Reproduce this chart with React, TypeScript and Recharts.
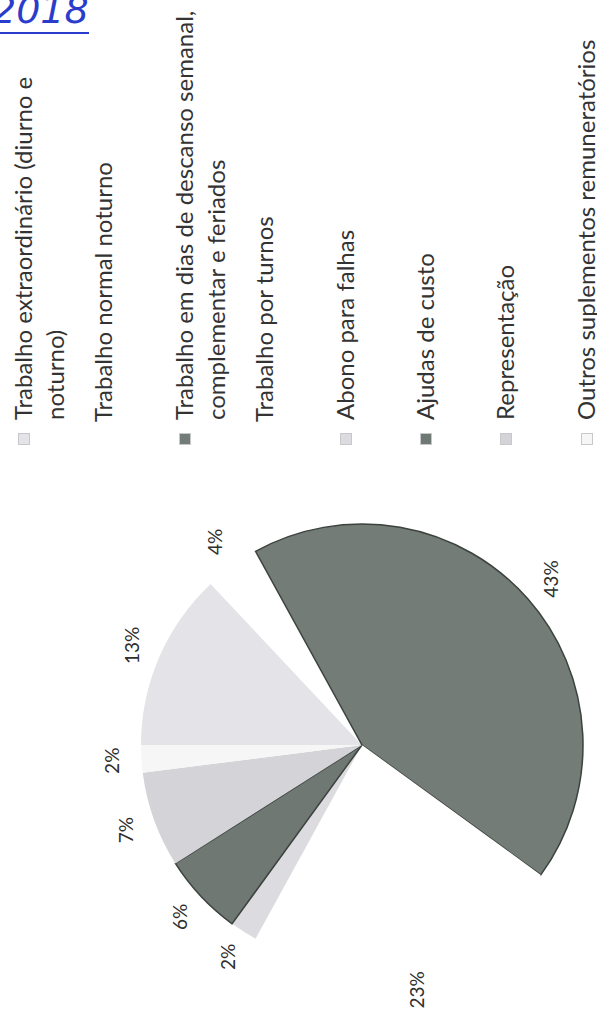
import React from 'react';
import { Cell, Legend, Pie, PieChart } from 'recharts';

// categories in the order Excel draws them (clockwise from 12 o'clock)
const categories = [
  'Trabalho extraordinário (diurno e noturno)',
  'Trabalho normal noturno',
  'Trabalho em dias de descanso semanal, complementar e feriados',
  'Trabalho por turnos',
  'Abono para falhas',
  'Ajudas de custo',
  'Representação',
  'Outros suplementos remuneratórios',
];
const shares = [13, 4, 43, 23, 2, 6, 7, 2];
const yearNote = '2018';

const fills = ['#e4e4e8', '#ffffff', '#737c76', '#ffffff', '#dcdce0', '#6f7872', '#d3d3d8', '#f6f6f6'];
const strokes = ['none', 'none', '#3c423e', 'none', 'none', '#3c423e', 'none', 'none'];

const data = categories.map((name, i) => ({ name, value: shares[i] }));

const RADIAN = Math.PI / 180;
const FONT = 'Lato, "Open Sans", sans-serif';

const renderLabel = (props: any) => {
  const { cx, cy, midAngle, outerRadius, value } = props;
  const r = outerRadius + 30;
  const x = cx + r * Math.cos(-midAngle * RADIAN);
  const y = cy + r * Math.sin(-midAngle * RADIAN);
  return (
    <text x={x} y={y} textAnchor="middle" dominantBaseline="central" fill="#2e2e2e" fontSize={19} fontFamily={FONT}>
      {`${value}%`}
    </text>
  );
};

// legend drawn from the categories array so it keeps the series order
const renderLegend = () => (
  <div style={{ position: 'relative', width: 446, height: 597 }}>
    {categories.map((name, i) => (
      <div
        key={name}
        style={{ position: 'absolute', left: 0, top: 7 + i * 80.4, width: 460, display: 'flex', alignItems: 'flex-start' }}
      >
        <span
          style={{
            width: 10,
            height: 10,
            marginTop: 11,
            background: fills[i],
            border: fills[i] === '#ffffff' ? 'none' : '1px solid #c8c8cc',
            flex: '0 0 auto',
          }}
        />
        <span
          style={{
            marginLeft: 13,
            width: 432,
            fontSize: 24,
            lineHeight: '32px',
            color: '#333',
            fontFamily: FONT,
          }}
        >
          {name}
        </span>
      </div>
    ))}
  </div>
);

export default function App() {
  return (
    <div style={{ position: 'absolute', left: 0, top: 0, width: 597, height: 1024, overflow: 'hidden', background: '#fff' }}>
      <div
        style={{
          position: 'absolute',
          left: 0,
          top: 0,
          width: 1024,
          height: 597,
          transformOrigin: '0 0',
          transform: 'translateY(1024px) rotate(-90deg)',
        }}
      >
        <PieChart width={1024} height={597} margin={{ top: 0, right: 0, bottom: 0, left: 0 }}>
          <Pie
            data={data}
            dataKey="value"
            nameKey="name"
            cx={279}
            cy={362}
            outerRadius={221}
            startAngle={90}
            endAngle={-270}
            label={renderLabel}
            labelLine={false}
            isAnimationActive={false}
          >
            {data.map((d, i) => (
              <Cell key={d.name} fill={fills[i]} stroke={strokes[i]} strokeWidth={1.5} />
            ))}
          </Pie>
          <Legend
            layout="vertical"
            align="right"
            verticalAlign="top"
            content={renderLegend}
            wrapperStyle={{ position: 'absolute', left: 579, top: 0, width: 446, height: 597 }}
          />
        </PieChart>
      </div>
      <div
        style={{
          position: 'absolute',
          left: -8,
          top: -12,
          fontSize: 38,
          color: '#2a3ccc',
          fontFamily: '"DejaVu Sans", sans-serif',
          fontStyle: 'italic',
          fontWeight: 300,
          borderBottom: '2px solid #2a3ccc',
          lineHeight: '44px',
        }}
      >
        {yearNote}
      </div>
    </div>
  );
}
